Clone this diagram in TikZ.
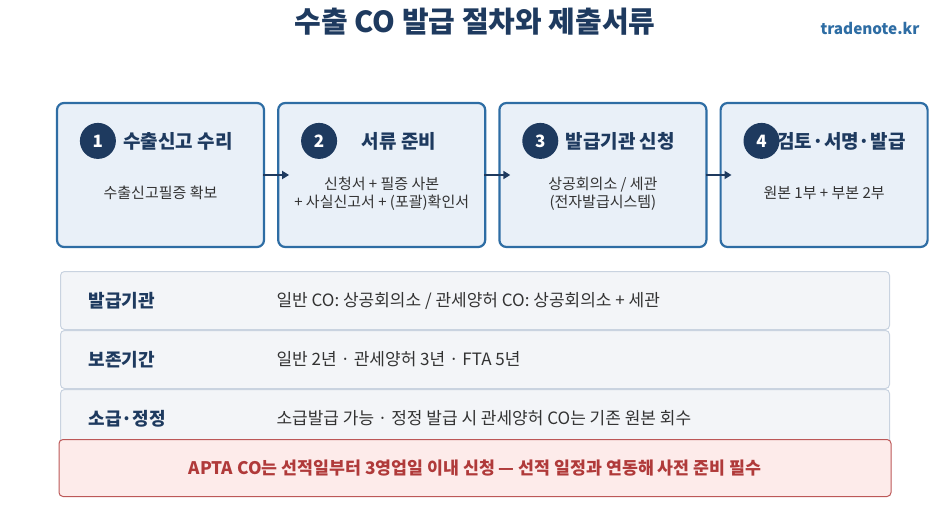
\documentclass[tikz,border=0pt]{standalone}
\usepackage{fontspec}
\setmainfont{Noto Sans CJK KR}
\usepackage{tikz}
\usetikzlibrary{positioning,arrows.meta,calc}
\definecolor{marino}{HTML}{1E3A5F}
\definecolor{borde}{HTML}{2E6DA4}
\definecolor{relleno}{HTML}{E9F0F8}
\definecolor{texto}{HTML}{333333}
\definecolor{fondo}{HTML}{F3F5F8}
\definecolor{linea}{HTML}{C9D3E0}
\definecolor{rojo}{HTML}{B03A3A}
\definecolor{rosa}{HTML}{FDEBEA}

\begin{document}
\begin{tikzpicture}[x=1pt, y=-1pt,
  etapa/.style={draw=borde, fill=relleno, line width=2.2pt, rounded corners=7pt, minimum width=207pt, minimum height=144pt},
  numero/.style={circle, fill=marino, text=white, minimum size=36pt, inner sep=0pt, font=\fontsize{17}{18}\selectfont\bfseries},
  titulo/.style={text=marino, font=\fontsize{19}{22}\selectfont\bfseries},
  detalle/.style={text=texto, align=center, font=\fontsize{15}{18}\selectfont},
  flecha/.style={-{Triangle[length=7pt, width=8pt]}, line width=2.2pt, color=marino},
  fila/.style={draw=linea, fill=fondo, line width=1pt, rounded corners=4pt, minimum width=829pt, minimum height=58pt},
  rotulo/.style={anchor=west, text=marino, font=\fontsize{18}{20}\selectfont\bfseries},
  valor/.style={anchor=west, text=texto, font=\fontsize{17}{20}\selectfont},
  aviso/.style={draw=rojo!85, fill=rosa, line width=1pt, rounded corners=4pt, minimum width=832pt, minimum height=57pt, text=rojo, font=\fontsize{17.3}{20}\selectfont\bfseries}
]
\useasboundingbox (0,0) rectangle (950,513);

\node[text=marino, font=\fontsize{29}{32}\selectfont\bfseries] (cabecera) at (475,22) {수출 CO 발급 절차와 제출서류};
\node[anchor=east, text=borde, font=\fontsize{15.3}{18}\selectfont\bfseries] (sitio) at (923,28) {tradenote.kr};

% etapas
\node[etapa] (e1) at (160.5,175) {};
\node[etapa, right=12pt of e1] (e2) {};
\node[etapa, right=12pt of e2] (e3) {};
\node[etapa, right=12pt of e3] (e4) {};

\node[numero] (n1) at ($(e1.north west)+(42,39)$) {1};
\node[numero] (n2) at ($(e2.north west)+(42,39)$) {2};
\node[numero] (n3) at ($(e3.north west)+(42,39)$) {3};
\node[numero] (n4) at ($(e4.north west)+(42,39)$) {4};

\node[titulo] (t1) at ($(n1)+(80,0)$) {수출신고 수리};
\node[titulo] (t2) at ($(n2)+(80,0)$) {서류 준비};
\node[titulo] (t3) at ($(n3)+(80,0)$) {발급기관 신청};
\node[titulo] (t4) at ($(n4)+(80,0)$) {검토·서명·발급};

\node[detalle] (d1) at ($(e1.center)+(0,18)$) {수출신고필증 확보};
\node[detalle] (d2) at ($(e2.center)+(0,19)$) {신청서 + 필증 사본\\+ 사실신고서 + (포괄)확인서};
\node[detalle] (d3) at ($(e3.center)+(0,19)$) {상공회의소 / 세관\\(전자발급시스템)};
\node[detalle] (d4) at ($(e4.center)+(0,18)$) {원본 1부 + 부본 2부};

\draw[flecha] ([xshift=-2pt]e1.east) -- ([xshift=12pt]e2.west);
\draw[flecha] ([xshift=-2pt]e2.east) -- ([xshift=12pt]e3.west);
\draw[flecha] ([xshift=-2pt]e3.east) -- ([xshift=12pt]e4.west);

% filas
\node[fila] (f1) at (475,300.5) {};
\node[fila, below=0pt of f1] (f2) {};
\node[fila, below=0pt of f2] (f3) {};

\node[rotulo] (r1) at ($(f1.west)+(25,0)$) {발급기관};
\node[rotulo] (r2) at ($(f2.west)+(25,0)$) {보존기간};
\node[rotulo] (r3) at ($(f3.west)+(25,0)$) {소급·정정};

\node[valor] (v1) at ($(f1.west)+(213,0)$) {일반 CO: 상공회의소 / 관세양허 CO: 상공회의소 + 세관};
\node[valor] (v2) at ($(f2.west)+(213,0)$) {일반 2년 · 관세양허 3년 · FTA 5년};
\node[valor] (v3) at ($(f3.west)+(213,0)$) {소급발급 가능 · 정정 발급 시 관세양허 CO는 기존 원본 회수};

\node[aviso] (av) at (475,468) {APTA CO는 선적일부터 3영업일 이내 신청 — 선적 일정과 연동해 사전 준비 필수};
\end{tikzpicture}
\end{document}
